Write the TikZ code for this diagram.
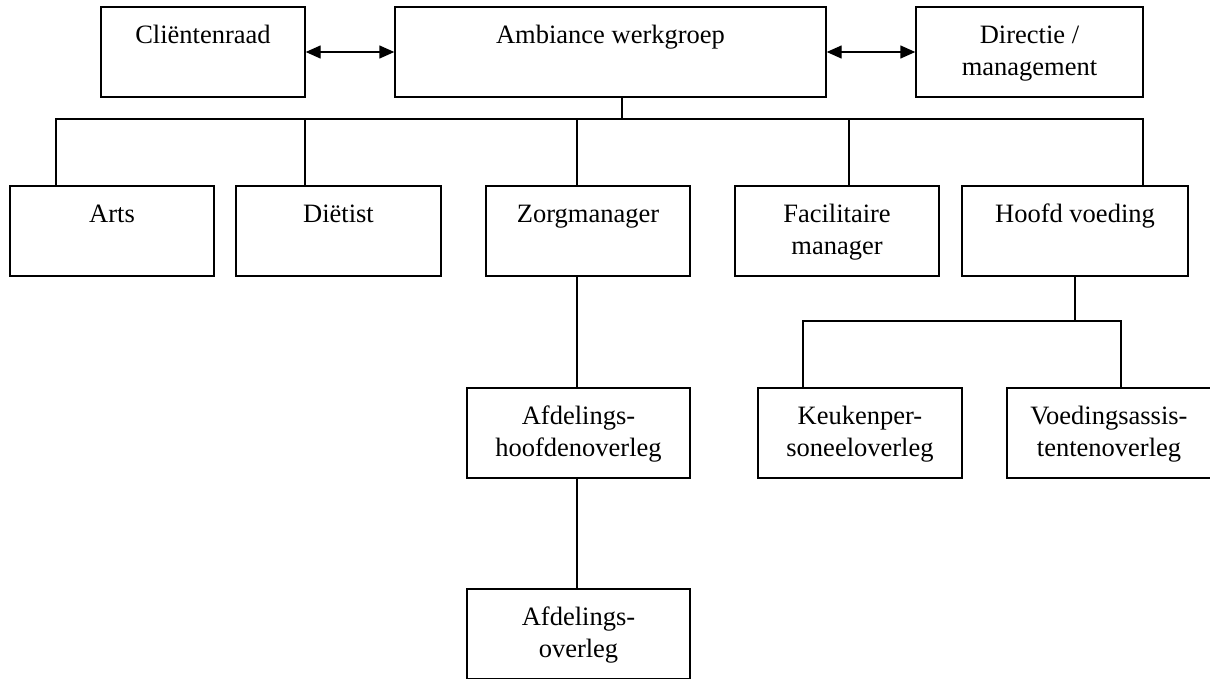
\documentclass[tikz,border=0pt]{standalone}
\usepackage{fontspec}
\setmainfont{Liberation Serif}
\usetikzlibrary{arrows.meta}
\newcommand{\lblstrut}{\rule{0pt}{22pt}}
\begin{document}
\begin{tikzpicture}[x=1pt,y=-1pt,
  box/.style={draw, line width=1.4pt, inner sep=0pt, minimum height=90pt, minimum width=#1},
  box/.default=204pt,
  lbl/.style={anchor=north, inner sep=0pt, align=center, yshift=-15pt, font=\fontsize{26.5}{32}\selectfont},
  conn/.style={line width=1.4pt},
  biarrow/.style={line width=1.4pt, {Triangle[length=15pt,width=13pt]}-{Triangle[length=15pt,width=13pt]}}]
\useasboundingbox (0,0) rectangle (1210,678);

% top row
\node[box, label={[lbl]north:{\lblstrut Cliëntenraad}}] (clr) at (203,52) {};
\node[box=431pt, label={[lbl]north:{\lblstrut Ambiance werkgroep}}] (amb) at (610.5,52) {};
\node[box=227pt, label={[lbl]north:{\lblstrut Directie /\\management}}] (dir) at (1029.5,52) {};

% second row
\node[box, label={[lbl]north:{\lblstrut Arts}}] (arts) at (112,231) {};
\node[box=205pt, label={[lbl]north:{\lblstrut Diëtist}}] (diet) at (338.5,231) {};
\node[box, label={[lbl]north:{\lblstrut Zorgmanager}}] (zorg) at (588,231) {};
\node[box, label={[lbl]north:{\lblstrut Facilitaire\\manager}}] (fac) at (837,231) {};
\node[box=226pt, label={[lbl]north:{\lblstrut Hoofd voeding}}] (hoofd) at (1075,231) {};

% third row
\node[box=223pt, label={[lbl]north:{\lblstrut Afdelings-\\hoofdenoverleg}}] (afdh) at (578.5,433) {};
\node[box, label={[lbl]north:{\lblstrut Keukenper-\\soneeloverleg}}] (kp) at (860,433) {};
\node[box, label={[lbl]north:{\lblstrut Voedingsassis-\\tentenoverleg}}] (va) at (1109,433) {};

% bottom
\node[box=223pt, label={[lbl]north:{\lblstrut Afdelings-\\overleg}}] (afd) at (578.5,634) {};

% arrows
\draw[biarrow] (clr.east) -- (amb.west);
\draw[biarrow] (amb.east) -- (dir.west);

% tree connectors
\coordinate (top) at (622,119);
\coordinate (xa) at (56,119);
\coordinate (xd) at (305,119);
\coordinate (xz) at (577,119);
\coordinate (xf) at (849,119);
\coordinate (xh) at (1143,119);
\draw[conn] (amb.south -| top) -- (top);
\draw[conn] (arts.north -| xa) -- (xa) -- (xh) -- (hoofd.north -| xh);
\draw[conn] (xd) -- (diet.north -| xd);
\draw[conn] (xz) -- (zorg.north -| xz);
\draw[conn] (xf) -- (fac.north -| xf);

\draw[conn] (zorg.south -| xz) -- (afdh.north -| xz);
\draw[conn] (afdh.south -| xz) -- (afd.north -| xz);

\coordinate (hb) at (1075,321);
\coordinate (kb) at (803,321);
\coordinate (vb) at (1121,321);
\draw[conn] (hoofd.south) -- (hb);
\draw[conn] (kp.north -| kb) -- (kb) -- (vb) -- (va.north -| vb);
\end{tikzpicture}
\end{document}
